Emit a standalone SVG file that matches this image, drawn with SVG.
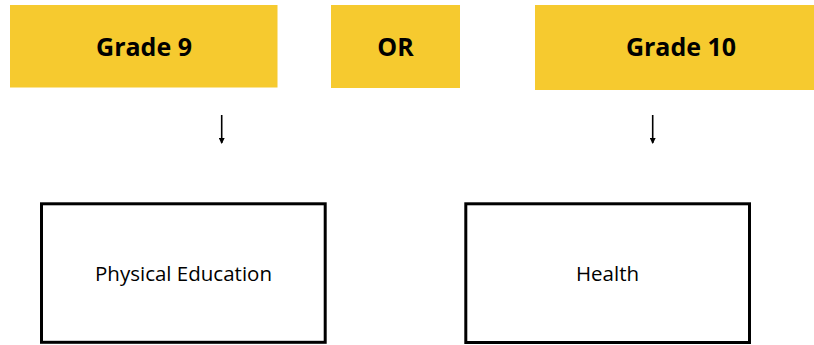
<svg xmlns="http://www.w3.org/2000/svg" width="814" height="345" viewBox="0 0 814 345">
<style>
.hdr{fill:#F6CA2F}
.ht{font-family:"Open Sans","Noto Sans",sans-serif;font-weight:bold;font-size:25px;fill:#000;text-anchor:middle}
.box{fill:#fff;stroke:#000;stroke-width:3}
.bt{font-family:"Open Sans","Noto Sans",sans-serif;font-size:20.5px;fill:#000;text-anchor:middle}
.con{stroke:#000;stroke-width:1.6;fill:none}
</style>
<defs>
<marker id="ah" markerWidth="6" markerHeight="6" refX="5" refY="3" orient="auto" markerUnits="userSpaceOnUse" viewBox="0 0 6 6">
<path d="M0,0 L6,3 L0,6 Z" fill="#000"/>
</marker>
</defs>
<rect width="814" height="345" fill="#fff"/>
<g id="grade9"><rect class="hdr" x="10" y="5" width="267.5" height="82.5"/><text class="ht" x="144" y="56">Grade 9</text></g>
<g id="or"><rect class="hdr" x="331" y="5" width="129" height="83"/><text class="ht" x="395.5" y="56">OR</text></g>
<g id="grade10"><rect class="hdr" x="535" y="5" width="279" height="85"/><text class="ht" x="681" y="56">Grade 10</text></g>
<g id="pe"><rect class="box" x="41.5" y="203.8" width="283.7" height="138.5"/><text class="bt" x="183.5" y="281">Physical Education</text></g>
<g id="health"><rect class="box" x="465.8" y="203.8" width="283.7" height="138.7"/><text class="bt" x="607.5" y="281">Health</text></g>
<g id="connectors">
<line class="con" x1="221.7" y1="115" x2="221.7" y2="143" marker-end="url(#ah)"/>
<line class="con" x1="652.7" y1="115" x2="652.7" y2="143" marker-end="url(#ah)"/>
</g>
</svg>
